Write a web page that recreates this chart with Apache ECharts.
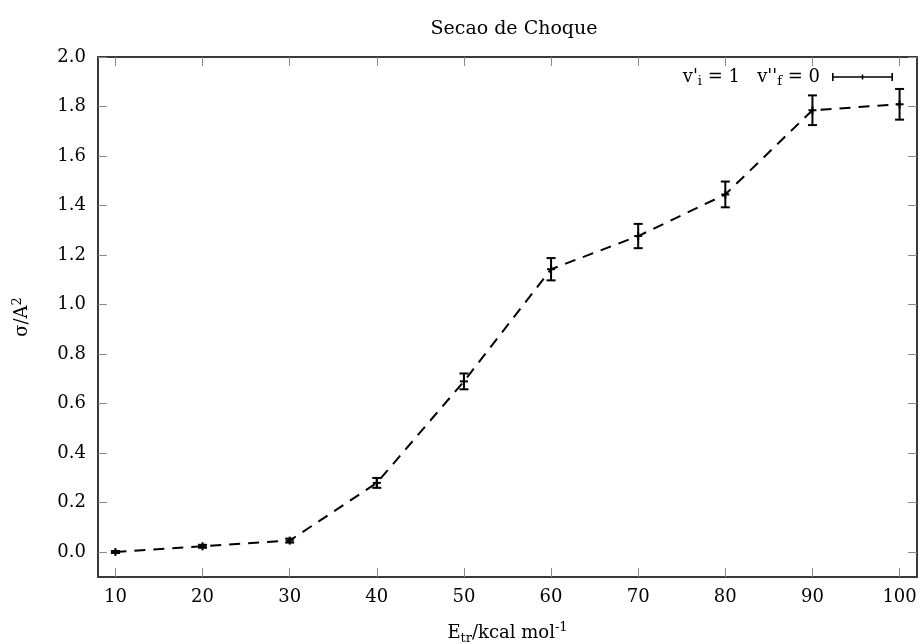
<!DOCTYPE html>
<html>
<head>
<meta charset="utf-8">
<script src="https://cdn.jsdelivr.net/npm/echarts@6/dist/echarts.min.js"></script>
<style>
  html, body { margin: 0; padding: 0; background: #fff; }
  #chart { width: 922px; height: 644px; }
</style>
</head>
<body>
<div id="chart"></div>
<script>
// Cross section vs. translational energy
const energies = [10, 20, 30, 40, 50, 60, 70, 80, 90, 100];
const sigma    = [0.001, 0.024, 0.047, 0.280, 0.690, 1.143, 1.277, 1.445, 1.785, 1.809];
const sigmaErr = [0.004, 0.006, 0.008, 0.020, 0.032, 0.045, 0.049, 0.052, 0.060, 0.062];
const xTicks = [10, 20, 30, 40, 50, 60, 70, 80, 90, 100];
const yTicks = [0.0, 0.2, 0.4, 0.6, 0.8, 1.0, 1.2, 1.4, 1.6, 1.8, 2.0];

const FONT = 'DejaVu Serif';
const INK = '#000';
const FRAME = '#3a3a3a';
const TICK = '#8a8a8a';
const FS = 18;

const chart = echarts.init(document.getElementById('chart'), null, { renderer: 'canvas' });

const lineData = energies.map((e, i) => [e, sigma[i]]);
const errData = energies.map((e, i) => [e, sigma[i], sigmaErr[i]]);

function xAxisBase(pos) {
  return {
    type: 'value', position: pos, min: 8, max: 102,
    axisLine: { show: true, onZero: false, lineStyle: { color: FRAME, width: 2 } },
    axisTick: { show: true, inside: true, length: 9, customValues: xTicks, lineStyle: { color: TICK, width: 1 } },
    splitLine: { show: false }
  };
}
function yAxisBase(pos) {
  return {
    type: 'value', position: pos, min: -0.1, max: 2.0,
    axisLine: { show: true, onZero: false, lineStyle: { color: FRAME, width: 2 } },
    axisTick: { show: true, inside: true, length: 9, customValues: yTicks, lineStyle: { color: TICK, width: 1 } },
    splitLine: { show: false }
  };
}

// error-bar key: horizontal bar with end caps and a centre tick
const legendIcon = 'path://M0,3.2 h61 v1.6 h-61 Z M0,0 h1.6 v8 h-1.6 Z M59.4,0 h1.6 v8 h-1.6 Z M29.7,1.5 h1.6 v5 h-1.6 Z';

const option = {
  backgroundColor: '#fff',
  animation: false,
  title: {
    text: 'Secao de Choque',
    left: 509, top: 15, textAlign: 'center',
    textStyle: { fontFamily: FONT, fontSize: 19, fontWeight: 'normal', color: INK }
  },
  grid: { left: 98, right: 5, top: 57, bottom: 67, containLabel: false, outerBoundsMode: 'none' },
  legend: {
    show: true,
    data: [{ name: 'curve', icon: legendIcon }],
    right: 29, top: 68,
    padding: 0,
    align: 'right',
    itemWidth: 61, itemHeight: 8, itemGap: 0,
    selectedMode: false,
    formatter: () => "v'{sub|i} = 1   v''{sub|f} = 0",
    textStyle: {
      fontFamily: FONT, fontSize: FS, color: INK, padding: [0, 7, 0, 0],
      rich: {
        sub: { fontFamily: FONT, fontSize: 13, color: INK, verticalAlign: 'bottom', padding: [9, 0, 0, 0] }
      }
    },
    itemStyle: { color: INK }
  },
  xAxis: [
    Object.assign(xAxisBase('bottom'), {
      name: 'E{sub|tr}/kcal mol{sup|-1}',
      nameLocation: 'middle', nameGap: 44,
      nameTextStyle: {
        fontFamily: FONT, fontSize: FS, color: INK,
        rich: {
          sub: { fontFamily: FONT, fontSize: 13, color: INK, verticalAlign: 'bottom', padding: [11, 0, 0, 0] },
          sup: { fontFamily: FONT, fontSize: 13, color: INK, verticalAlign: 'top', padding: [0, 0, 10, 0] }
        }
      },
      axisLabel: {
        show: true, customValues: xTicks, margin: 11,
        fontFamily: FONT, fontSize: FS, color: INK
      }
    }),
    Object.assign(xAxisBase('top'), { axisLabel: { show: false } })
  ],
  yAxis: [
    Object.assign(yAxisBase('left'), {
      name: 'σ/A{sup|2}',
      nameLocation: 'middle', nameGap: 64, nameRotate: 90,
      nameTextStyle: {
        fontFamily: FONT, fontSize: FS, color: INK,
        rich: {
          sup: { fontFamily: FONT, fontSize: 13, color: INK, verticalAlign: 'top', padding: [0, 0, 10, 0] }
        }
      },
      axisLabel: {
        show: true, customValues: yTicks, margin: 12,
        fontFamily: FONT, fontSize: FS, color: INK,
        formatter: v => v.toFixed(1)
      }
    }),
    Object.assign(yAxisBase('right'), { axisLabel: { show: false } })
  ],
  series: [
    {
      name: 'curve',
      type: 'line',
      xAxisIndex: 0, yAxisIndex: 0,
      data: lineData,
      showSymbol: false,
      symbol: 'none',
      lineStyle: { color: INK, width: 2, type: [11, 8] },
      itemStyle: { color: INK },
      z: 2
    },
    {
      name: 'errors',
      type: 'custom',
      xAxisIndex: 0, yAxisIndex: 0,
      data: errData,
      z: 3,
      renderItem: function (params, api) {
        const x = api.value(0), y = api.value(1), e = api.value(2);
        const top = api.coord([x, y + e]);
        const bot = api.coord([x, y - e]);
        const mid = api.coord([x, y]);
        const cap = 4.5, plus = 4;
        const st = { stroke: INK, lineWidth: 2 };
        return {
          type: 'group',
          children: [
            { type: 'line', shape: { x1: top[0], y1: top[1], x2: bot[0], y2: bot[1] }, style: st },
            { type: 'line', shape: { x1: top[0] - cap, y1: top[1], x2: top[0] + cap, y2: top[1] }, style: st },
            { type: 'line', shape: { x1: bot[0] - cap, y1: bot[1], x2: bot[0] + cap, y2: bot[1] }, style: st },
            { type: 'line', shape: { x1: mid[0] - plus, y1: mid[1], x2: mid[0] + plus, y2: mid[1] }, style: st },
            { type: 'line', shape: { x1: mid[0], y1: mid[1] - plus, x2: mid[0], y2: mid[1] + plus }, style: st }
          ]
        };
      }
    }
  ]
};

chart.setOption(option);
</script>
</body>
</html>
